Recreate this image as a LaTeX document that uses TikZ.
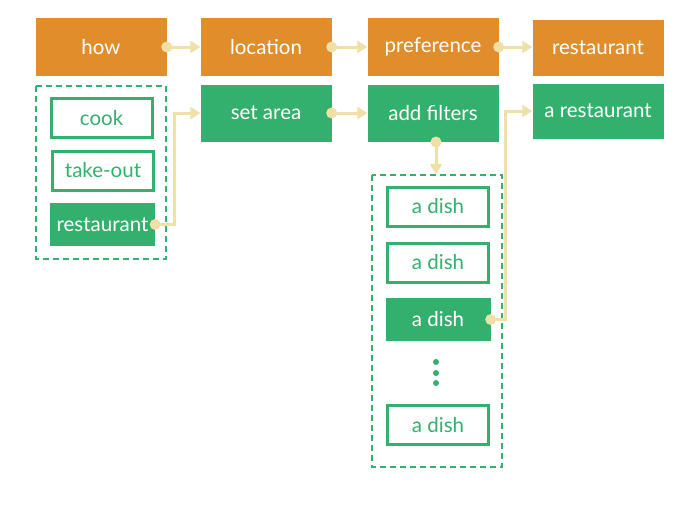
\documentclass[tikz,border=0pt]{standalone}
\usepackage{fontspec}
\setmainfont{Lato}
\usetikzlibrary{arrows.meta}
\definecolor{org}{HTML}{E08E2B}
\definecolor{grn}{HTML}{34B06E}
\definecolor{tan}{HTML}{EEE0A6}
\tikzset{
  txt/.style={font=\fontsize{20.5}{24}\selectfont, inner sep=0pt},
  obox/.style={txt, fill=org, draw=none, minimum width=131pt, minimum height=58pt, text=white},
  gbox/.style={txt, fill=grn, draw=none, minimum width=131pt, minimum height=57pt, text=white},
  wbox/.style={txt, fill=white, draw=grn, line width=3pt, minimum width=101pt, minimum height=39pt, text=grn},
  fbox/.style={txt, fill=grn, draw=none, minimum width=105pt, minimum height=43pt, text=white},
  dbox/.style={draw=grn, line width=1.5pt, dash pattern=on 6pt off 4pt, fill=none},
  conn/.style={draw=tan, line width=3pt, -{Triangle[length=10pt,width=12pt]}},
  cdot/.style={circle, fill=tan, minimum size=11pt, inner sep=0pt, draw=none},
}
\begin{document}
\begin{tikzpicture}[x=1pt,y=-1pt]
\useasboundingbox (0,0) rectangle (700,525);
% top row
\node[obox] (how) at (101,47) {how};
\node[obox] (loc) at (266,47) {location};
\node[obox] (pref) at (433,47) {preference};
\node[obox, minimum height=56pt] (rest) at (598,48) {restaurant};
% second row
\node[gbox] (area) at (266,113) {set area};
\node[gbox] (filt) at (433,113) {add filters};
\node[gbox, minimum height=55pt] (arest) at (598,111) {a restaurant};
% left group
\draw[dbox] (36,86) rectangle (166,259);
\node[wbox] (cook) at (101.5,118) {cook};
\node[wbox] (take) at (103,170.5) {take-out};
\node[fbox] (lrest) at (102.5,224.5) {restaurant};
% right group
\draw[dbox] (372,175) rectangle (502,467);
\coordinate (dtop) at (436,174);
\node[wbox] (d1) at (438,206.5) {a dish};
\node[wbox] (d2) at (438,262.5) {a dish};
\node[fbox] (d3) at (438,319.5) {a dish};
\node[wbox] (d4) at (438,425) {a dish};
\foreach \yy in {362,373,383} \fill[grn] (436,\yy) circle (3pt);
% connectors
\draw[conn] (how.east) -- (loc.west);
\node[cdot] at (how.east) {};
\draw[conn] (loc.east) -- (pref.west);
\node[cdot] at (loc.east) {};
\draw[conn] (pref.east) -- (rest.west |- pref.east);
\node[cdot] at (pref.east) {};
\draw[conn] (area.east) -- (filt.west);
\node[cdot] at (area.east) {};
\draw[conn] (lrest.east) -- (174,224.5) -- (174,113) -- (area.west);
\node[cdot] at (lrest.east) {};
\draw[conn] (436,142) -- (dtop);
\node[cdot] at (436,142) {};
\draw[conn] (d3.east) -- (505,319.5) -- (505,111) -- (arest.west);
\node[cdot] at (d3.east) {};
\end{tikzpicture}
\end{document}
